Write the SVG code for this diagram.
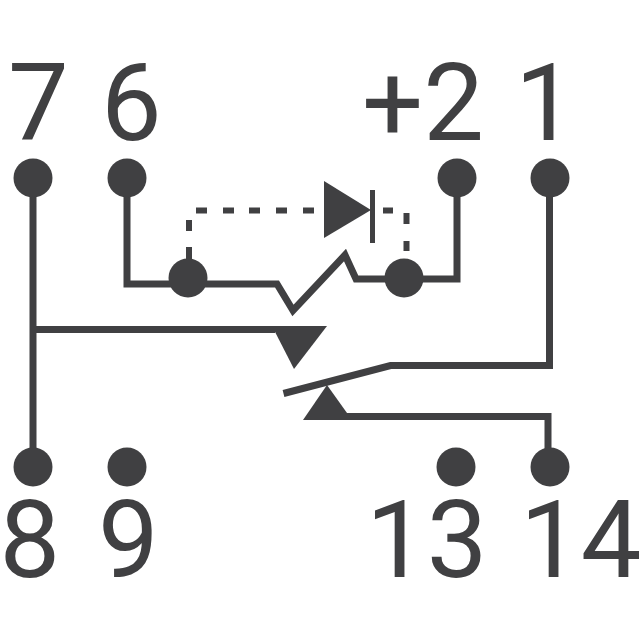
<svg xmlns="http://www.w3.org/2000/svg" width="640" height="640" viewBox="0 0 640 640">
<style>
.w{fill:none;stroke:#404042;stroke-width:7;stroke-linejoin:miter}
.d{fill:none;stroke:#404042;stroke-width:6}
.f{fill:#404042}
text{fill:#404042;font-family:Roboto,"Liberation Sans",Arial,sans-serif;font-size:108px}
</style>
<rect width="640" height="640" fill="#fff"/>
<g id="connectors">
<path class="w" d="M33 178V467"/>
<path class="w" d="M33 329.5H275"/>
<path class="w" d="M127 178V284H277L293 310.500L345 255L356 279H404"/>
<path class="w" d="M457 178V279H404"/>
<path class="w" d="M549.500 178V365.500H390.500L283.500 393.500"/>
<path class="w" d="M340 416.500H548V467"/>
<path class="d" d="M189 265V247M189 231V220M196 210.500H207M223 210.500H234M249 210.500H260M276 210.500H287M303 210.500H314"/>
<path class="d" d="M383 210.500H393M406.500 213V224M406.500 241V251"/>
<path class="w" style="stroke-width:5" d="M372.500 190V243"/>
</g>
<g id="diode"><polygon class="f" points="324,181 324,238 371,210"/></g>
<g id="contact-upper"><polygon class="f" points="272,326 327,326 294,369"/></g>
<g id="contact-lower"><polygon class="f" points="303,420 352,420 327,385"/></g>
<g id="pin-7"><circle class="f" cx="33" cy="178" r="19.500"/><text x="8" y="139.500">7</text></g>
<g id="pin-6"><circle class="f" cx="127" cy="178" r="19.500"/><text x="101" y="139.500">6</text></g>
<g id="pin-2"><circle class="f" cx="457" cy="178" r="19.500"/><text x="362" y="139.500">+2</text></g>
<g id="pin-1"><circle class="f" cx="550" cy="178" r="19.500"/><text x="515" y="139.500">1</text></g>
<g id="pin-8"><circle class="f" cx="33" cy="467" r="19.500"/><text x="-0.500" y="577">8</text></g>
<g id="pin-9"><circle class="f" cx="127" cy="467" r="19.500"/><text x="98" y="577">9</text></g>
<g id="pin-13"><circle class="f" cx="456" cy="467" r="19.500"/><text x="366" y="577">13</text></g>
<g id="pin-14"><circle class="f" cx="550" cy="467" r="19.500"/><text x="520" y="577">14</text></g>
<g id="junction-a"><circle class="f" cx="188" cy="278" r="19.500"/></g>
<g id="junction-b"><circle class="f" cx="404" cy="278" r="19.500"/></g>
</svg>
